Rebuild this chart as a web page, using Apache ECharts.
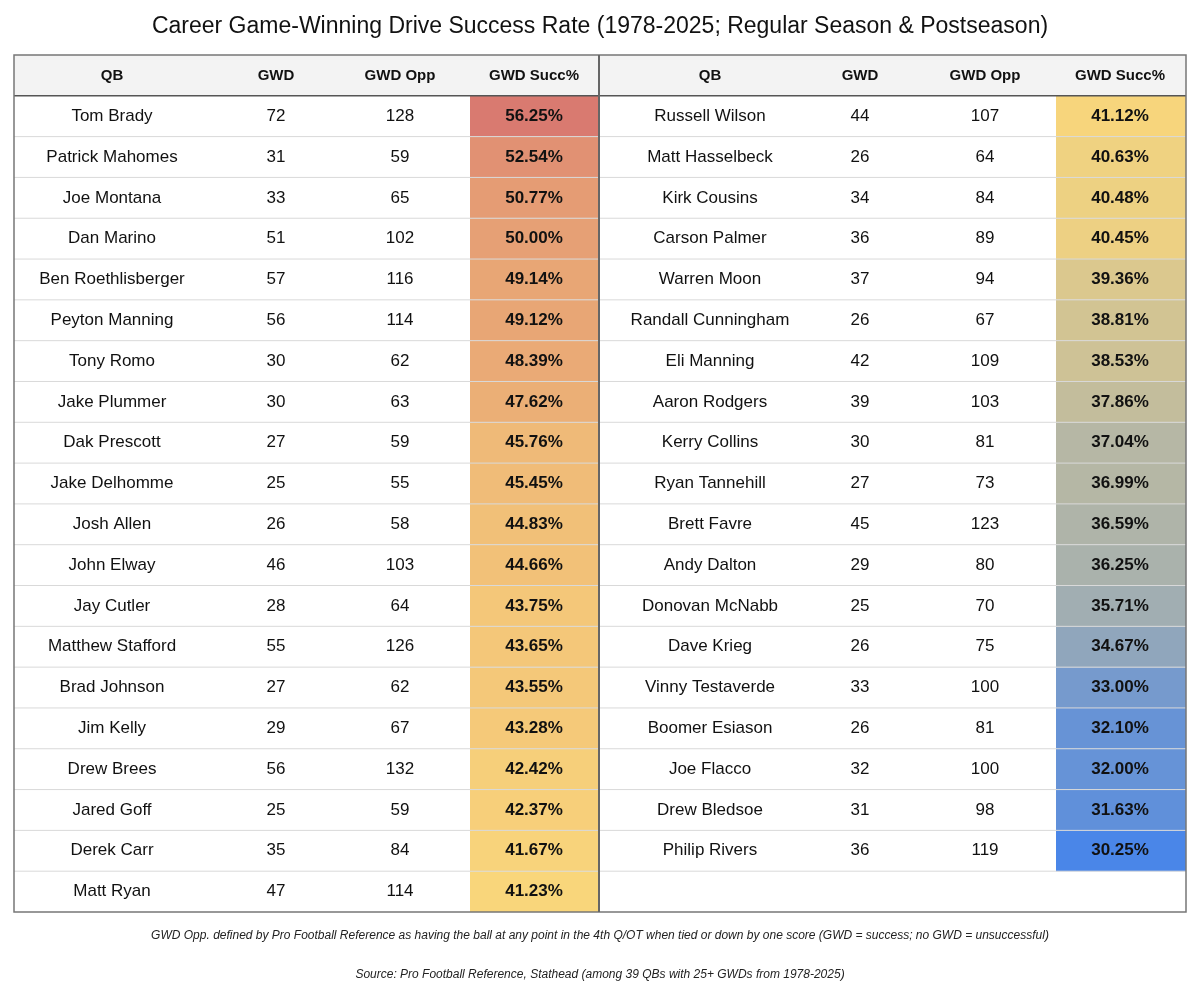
<!DOCTYPE html><html><head><meta charset="utf-8">
<script src="https://cdn.jsdelivr.net/npm/echarts@6/dist/echarts.min.js"></script>
<style>html,body{margin:0;background:#fff}#c{width:1200px;height:992px}</style></head><body><div id="c"></div>
<script>
const headers = ['QB','GWD','GWD Opp','GWD Succ%'];
const leftQB = ['Tom Brady','Patrick Mahomes','Joe Montana','Dan Marino','Ben Roethlisberger','Peyton Manning','Tony Romo','Jake Plummer','Dak Prescott','Jake Delhomme','Josh Allen','John Elway','Jay Cutler','Matthew Stafford','Brad Johnson','Jim Kelly','Drew Brees','Jared Goff','Derek Carr','Matt Ryan'];
const leftGWD = [72,31,33,51,57,56,30,30,27,25,26,46,28,55,27,29,56,25,35,47];
const leftOpp = [128,59,65,102,116,114,62,63,59,55,58,103,64,126,62,67,132,59,84,114];
const leftPct = [56.25,52.54,50.77,50.00,49.14,49.12,48.39,47.62,45.76,45.45,44.83,44.66,43.75,43.65,43.55,43.28,42.42,42.37,41.67,41.23];
const rightQB = ['Russell Wilson','Matt Hasselbeck','Kirk Cousins','Carson Palmer','Warren Moon','Randall Cunningham','Eli Manning','Aaron Rodgers','Kerry Collins','Ryan Tannehill','Brett Favre','Andy Dalton','Donovan McNabb','Dave Krieg','Vinny Testaverde','Boomer Esiason','Joe Flacco','Drew Bledsoe','Philip Rivers'];
const rightGWD = [44,26,34,36,37,26,42,39,30,27,45,29,25,26,33,26,32,31,36];
const rightOpp = [107,64,84,89,94,67,109,103,81,73,123,80,70,75,100,81,100,98,119];
const rightPct = [41.12,40.63,40.48,40.45,39.36,38.81,38.53,37.86,37.04,36.99,36.59,36.25,35.71,34.67,33.00,32.10,32.00,31.63,30.25];

const all = leftPct.concat(rightPct);
const vmin = Math.min(...all), vmax = Math.max(...all);
const sorted = all.slice().sort((a,b)=>a-b);
const vmid = sorted[Math.floor(sorted.length/2)];
function hex(h){return [1,3,5].map(i=>parseInt(h.substr(i,2),16));}
const cLo=hex('#4a86e8'), cMid=hex('#f9d67b'), cHi=hex('#d97a70');
function colorFor(v){
  let a,b,t;
  if(v<=vmid){a=cLo;b=cMid;t=(v-vmin)/(vmid-vmin);} else {a=cMid;b=cHi;t=(v-vmid)/(vmax-vmid);}
  const c=a.map((x,i)=>Math.round(x+(b[i]-x)*t));
  return 'rgb('+c.join(',')+')';
}

const cells=[];
leftQB.forEach((q,i)=>cells.push([0,i+1,q,leftGWD[i],leftOpp[i],leftPct[i]]));
rightQB.forEach((q,i)=>cells.push([1,i+1,q,rightGWD[i],rightOpp[i],rightPct[i]]));
const rows=[]; for(let r=0;r<=21;r++) rows.push([r]);

const textX=[[98,262,386,520],[696,846,971,1106]];
const pctCell=[[456,584],[1042,1172]];
const FONT='"Liberation Sans", Arial, sans-serif';

function cellItem(params,api){
  const side=api.value(0), row=api.value(1);
  const p0=api.coord([0,row]), p1=api.coord([0,row+1]);
  const x0=api.coord([0,0])[0];
  const y0=p0[1], h=p1[1]-p0[1], cy=y0+h/2;
  const d=cells[params.dataIndex];
  const tx=textX[side], pc=pctCell[side];
  const ch=[];
  ch.push({type:'rect',shape:{x:x0+pc[0],y:y0,width:pc[1]-pc[0],height:h},style:{fill:colorFor(d[5])}});
  const vals=[d[2],String(d[3]),String(d[4]),d[5].toFixed(2)+'%'];
  vals.forEach((t,i)=>ch.push({type:'text',x:x0+tx[i],y:cy,style:{text:t,fill:'#111',font:(i==3?'bold ':'')+'17px '+FONT,align:'center',verticalAlign:'middle'}}));
  return {type:'group',children:ch};
}
function gridItem(params,api){
  const r=api.value(0);
  const y=api.coord([0,r])[1];
  const x0=api.coord([0,0])[0], x1=api.coord([1172,0])[0];
  const ch=[];
  if(r===0){
    const y1=api.coord([0,1])[1];
    ch.push({type:'rect',shape:{x:x0,y:y,width:1172,height:y1-y},style:{fill:'#f3f3f3'}});
    [0,1].forEach(s=>headers.forEach((h,i)=>ch.push({type:'text',x:x0+textX[s][i],y:(y+y1)/2,style:{text:h,fill:'#111',font:'bold 15px '+FONT,align:'center',verticalAlign:'middle'}})));
  }
  if(r>1 && r<21) ch.push({type:'line',shape:{x1:x0,y1:y,x2:x1,y2:y},style:{stroke:'#d9d9d9',lineWidth:1}});
  if(r===1) ch.push({type:'line',shape:{x1:x0,y1:y,x2:x1,y2:y},style:{stroke:'#555',lineWidth:1.5}});
  if(r===21){
    const yt=api.coord([0,0])[1];
    ch.push({type:'rect',shape:{x:x0,y:yt,width:1172,height:y-yt},style:{fill:'none',stroke:'#777',lineWidth:1.5}});
    ch.push({type:'line',shape:{x1:x0+585,y1:yt,x2:x0+585,y2:y},style:{stroke:'#666',lineWidth:2}});
  }
  return {type:'group',children:ch};
}

const chart=echarts.init(document.getElementById('c'));
chart.setOption({
  animation:false,
  title:[
    {text:'Career Game-Winning Drive Success Rate (1978-2025; Regular Season & Postseason)',left:'center',top:10,textStyle:{fontFamily:FONT,fontSize:23,fontWeight:'normal',color:'#111'}},
    {text:'GWD Opp. defined by Pro Football Reference as having the ball at any point in the 4th Q/OT when tied or down by one score (GWD = success; no GWD = unsuccessful)',left:'center',top:925,textStyle:{fontFamily:FONT,fontSize:12,fontStyle:'italic',fontWeight:'normal',color:'#222'}},
    {text:'Source: Pro Football Reference, Stathead (among 39 QBs with 25+ GWDs from 1978-2025)',left:'center',top:964,textStyle:{fontFamily:FONT,fontSize:12,fontStyle:'italic',fontWeight:'normal',color:'#222'}}
  ],
  grid:{left:14,top:55,width:1172,height:857},
  xAxis:{type:'value',min:0,max:1172,show:false},
  yAxis:{type:'value',min:0,max:21,inverse:true,show:false},
  series:[
    {type:'custom',renderItem:cellItem,data:cells.map(c=>[c[0],c[1]]),z:1},
    {type:'custom',renderItem:gridItem,data:rows,z:2}
  ]
});
</script></body></html>
